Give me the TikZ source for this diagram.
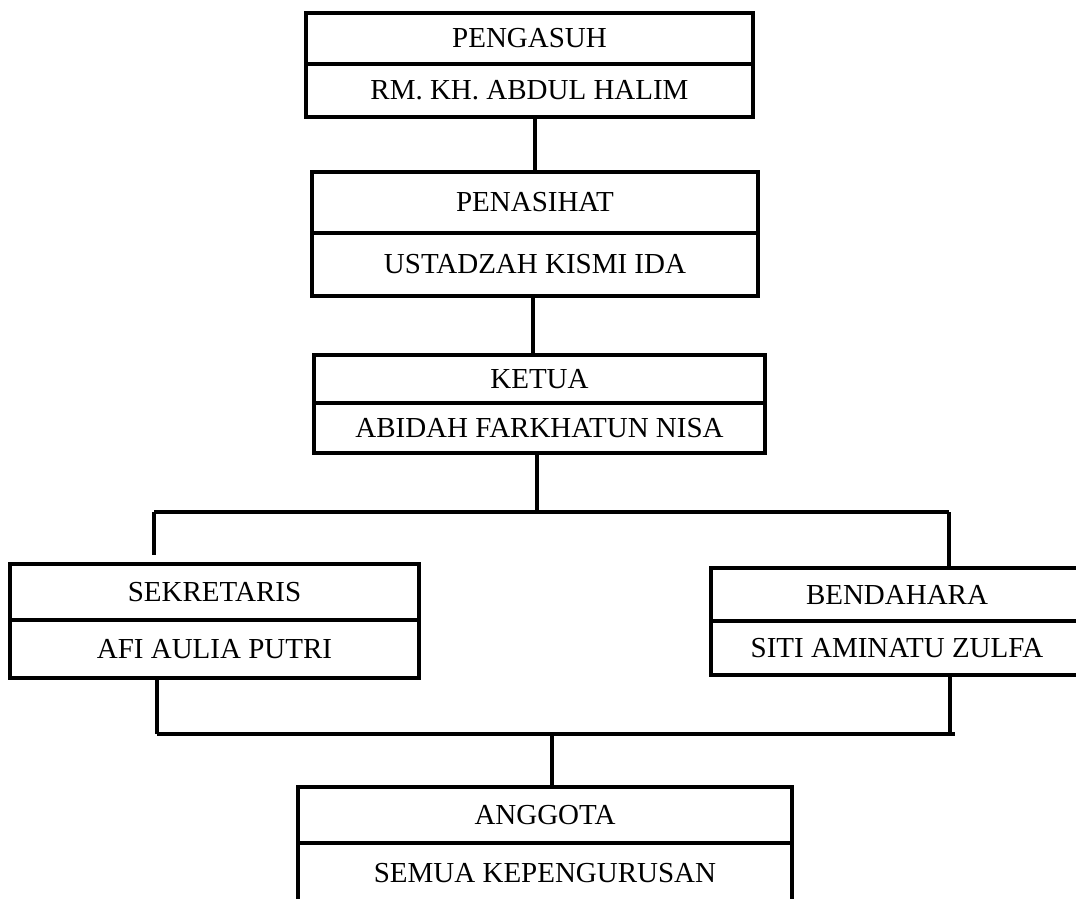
\documentclass[tikz,border=0pt]{standalone}
\usepackage{fontspec}
\setmainfont{Liberation Serif}
\usetikzlibrary{positioning}
\tikzset{
    cell/.style={draw, line width=2.2pt, rectangle, inner sep=0pt, outer sep=0pt,
        font=\fontsize{16.5}{19}\selectfont},
    link/.style={line width=2.2pt},
}

\begin{document}
\begin{tikzpicture}[x=0.02cm, y=-0.02cm]
\useasboundingbox (0,0) rectangle (1076,899);
\clip (0,0) rectangle (1076,899);

% boxes
\node[cell, minimum width=8.94cm, minimum height=1.02cm] (pengasuh) at (529.5,38.5) {PENGASUH};
\node[cell, minimum width=8.94cm, minimum height=1.06cm, below=0pt of pengasuh] (halim) {RM. KH. ABDUL HALIM};

\node[cell, minimum width=8.92cm, minimum height=1.22cm] (penasihat) at (535,202.5) {PENASIHAT};
\node[cell, minimum width=8.92cm, minimum height=1.26cm, below=0pt of penasihat] (kismi) {USTADZAH KISMI IDA};

\node[cell, minimum width=9.02cm, minimum height=0.96cm] (ketua) at (539.5,379) {KETUA};
\node[cell, minimum width=9.02cm, minimum height=1.0cm, below=0pt of ketua] (abidah) {ABIDAH FARKHATUN NISA};

\node[cell, minimum width=8.18cm, minimum height=1.12cm] (sekretaris) at (214.5,592) {SEKRETARIS};
\node[cell, minimum width=8.18cm, minimum height=1.16cm, below=0pt of sekretaris] (afi) {AFI AULIA PUTRI};

\node[cell, minimum width=7.44cm, minimum height=1.06cm] (bendahara) at (897,594.5) {BENDAHARA};
\node[cell, minimum width=7.44cm, minimum height=1.08cm, below=0pt of bendahara] (siti) {SITI AMINATU ZULFA};

\node[cell, minimum width=9.88cm, minimum height=1.12cm] (anggota) at (545,815) {ANGGOTA};
\node[cell, minimum width=9.88cm, minimum height=1.2cm, below=0pt of anggota] (semua) {SEMUA KEPENGURUSAN};

% junctions
\coordinate (p1) at (535,117);
\coordinate (p2) at (533,296);
\coordinate (p3) at (537,453);
\coordinate (tl) at (154,512);
\coordinate (tr) at (949,512);
\coordinate (bl) at (157,734);
\coordinate (bx) at (950,734);
\coordinate (br) at (955,734);
\coordinate (bm) at (552,734);

% lines
\draw[link] (p1) -- (p1 |- penasihat.north);
\draw[link] (p2) -- (p2 |- ketua.north);
\draw[link] (p3) -- (p3 |- tl);
\draw[link] (tl) -- (tr);
\draw[link] (tl) -- ([yshift=5pt]tl |- sekretaris.north);
\draw[link] (tr) -- (tr |- bendahara.north);
\draw[link] (bl |- afi.south) -- (bl);
\draw[link] (bx |- siti.south) -- (bx);
\draw[link] (bl) -- (br);
\draw[link] (bm) -- (bm |- anggota.north);
\end{tikzpicture}
\end{document}
